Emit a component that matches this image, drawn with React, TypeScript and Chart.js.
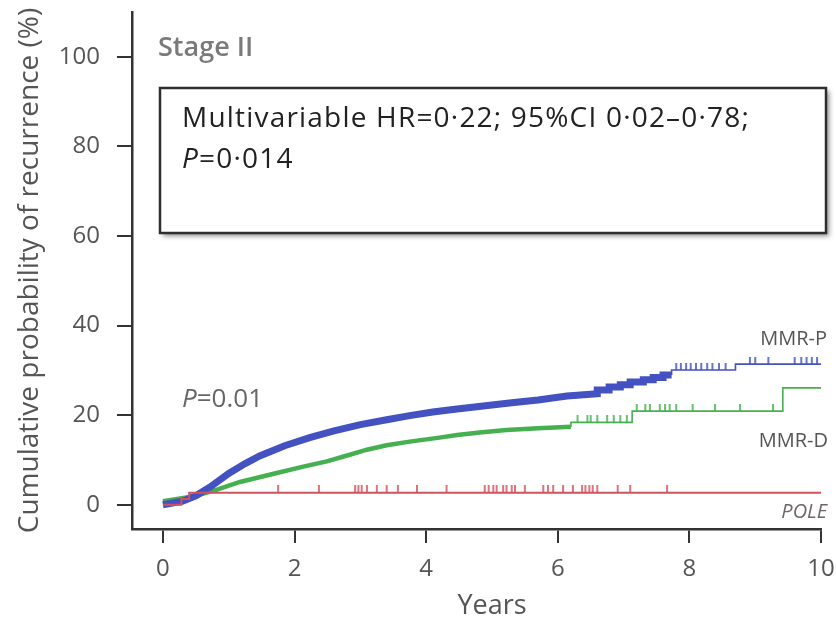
import React, { useEffect, useRef } from "react";
import { Chart, registerables } from "chart.js";

Chart.register(...registerables);

// ---------- data ----------
const xTickValues = [0, 2, 4, 6, 8, 10];
const yTickValues = [0, 20, 40, 60, 80, 100];

// MMR-P (blue) cumulative probability of recurrence (%); repeated times mark vertical steps
const mmrpTimes = [0, 0.3, 0.5, 0.71, 1.0, 1.25, 1.47, 1.85, 2.23, 2.6, 3.0, 3.4, 3.75, 4.1, 4.47, 4.9, 5.3, 5.7, 6.14, 6.6, 6.6, 6.78, 6.78, 6.95, 6.95, 7.1, 7.1, 7.3, 7.3, 7.45, 7.45, 7.6, 7.6, 7.73, 7.73, 8.7, 8.7, 10];
const mmrpValues = [0, 0.8, 2.0, 3.9, 7.0, 9.2, 10.9, 13.2, 15.0, 16.5, 17.9, 19.0, 19.9, 20.7, 21.4, 22.1, 22.8, 23.4, 24.3, 24.8, 25.6, 25.6, 26.3, 26.3, 26.8, 26.8, 27.4, 27.4, 27.9, 27.9, 28.4, 28.4, 29.0, 29.0, 30.1, 30.1, 31.4, 31.4];
const mmrpCensor = [7.8, 7.87, 7.95, 8.02, 8.1, 8.18, 8.27, 8.35, 8.45, 8.55, 8.92, 9.0, 9.2, 9.6, 9.7, 9.78, 9.86, 9.94];

// MMR-D (green)
const mmrdTimes = [0, 0.5, 0.8, 1.17, 1.45, 1.73, 2.1, 2.49, 2.8, 3.1, 3.4, 3.75, 4.2, 4.47, 4.85, 5.22, 5.7, 6.2, 6.2, 7.13, 7.13, 9.42, 9.42, 10];
const mmrdValues = [0.8, 2.0, 3.3, 5.1, 6.1, 7.1, 8.4, 9.7, 11.0, 12.3, 13.3, 14.1, 15.0, 15.6, 16.2, 16.7, 17.1, 17.4, 18.4, 18.4, 20.9, 20.9, 26.1, 26.1];
const mmrdCensor = [6.3, 6.45, 6.5, 6.6, 6.75, 6.85, 6.95, 7.05, 7.2, 7.33, 7.4, 7.55, 7.63, 7.7, 7.8, 8.05, 8.39, 8.77, 9.27];

// POLE (red)
const poleTimes = [0, 0.28, 0.28, 0.4, 0.4, 10];
const poleValues = [0, 0, 1.3, 1.3, 2.7, 2.7];
const poleCensor = [1.75, 2.37, 2.92, 2.97, 3.02, 3.1, 3.25, 3.4, 3.57, 3.86, 4.31, 4.89, 4.95, 5.02, 5.07, 5.17, 5.22, 5.3, 5.35, 5.5, 5.78, 5.85, 5.93, 6.08, 6.23, 6.37, 6.42, 6.48, 6.53, 6.6, 6.91, 7.1, 7.66];

// ---------- styling ----------
const FONT = "'Open Sans', sans-serif";
const BLUE = "#4352c0";
const GREEN = "#45b04f";
const RED = "#d2515e";
const AXIS = "#333333";
const TEXT = "#555555";

function toPoints(times: number[], values: number[]) {
  return times.map((t, i) => ({ x: t, y: values[i] }));
}

function stepValueAt(times: number[], values: number[], t: number) {
  let v = values[0];
  for (let i = 0; i < times.length; i++) {
    if (times[i] <= t) v = values[i];
  }
  return v;
}

function censorPoints(censor: number[], times: number[], values: number[]) {
  return censor.map((t) => ({ x: t, y: stepValueAt(times, values, t) }));
}

function makeTick(color: string, h: number, w = 1.6) {
  const c = document.createElement("canvas");
  c.width = 4;
  c.height = h * 2;
  const g = c.getContext("2d")!;
  g.strokeStyle = color;
  g.lineWidth = w;
  g.beginPath();
  g.moveTo(2, 0);
  g.lineTo(2, h);
  g.stroke();
  return c;
}

function drawRich(
  ctx: CanvasRenderingContext2D,
  parts: [string, boolean][],
  x: number,
  y: number,
  size: number,
  family: string,
  color: string,
  spacing = "0px"
) {
  let cx = x;
  ctx.save();
  ctx.fillStyle = color;
  ctx.textAlign = "left";
  (ctx as any).letterSpacing = spacing;
  for (const [txt, italic] of parts) {
    ctx.font = `${italic ? "italic " : ""}${size}px ${family}`;
    ctx.fillText(txt, cx, y);
    cx += ctx.measureText(txt).width;
  }
  ctx.restore();
}

const annotationPlugin = {
  id: "kmAnnotations",
  afterDraw(chart: any) {
    const ctx: CanvasRenderingContext2D = chart.ctx;
    const xs = chart.scales.x;
    ctx.save();
    ctx.textBaseline = "alphabetic";

    // Stage label
    ctx.font = `600 27px ${FONT}`;
    ctx.fillStyle = "#7a7a7a";
    ctx.textAlign = "left";
    ctx.fillText("Stage II", 158, 56);

    // Box with shadow
    ctx.save();
    ctx.shadowColor = "rgba(0,0,0,0.45)";
    ctx.shadowBlur = 5;
    ctx.shadowOffsetX = 3;
    ctx.shadowOffsetY = 3;
    ctx.fillStyle = "#ffffff";
    ctx.fillRect(160, 88, 666, 145);
    ctx.restore();
    ctx.lineWidth = 2.5;
    ctx.strokeStyle = "#2e2e2e";
    ctx.strokeRect(160, 88, 666, 145);

    drawRich(ctx, [["Multivariable HR=0·22; 95%CI 0·02–0·78;", false]], 182, 127, 28, FONT, "#222", "1.2px");
    drawRich(ctx, [["P", true], ["=0·014", false]], 182, 168, 28, FONT, "#222", "1.2px");

    // P value
    drawRich(ctx, [["P", true], ["=0.01", false]], 182, 407, 26, FONT, "#666");

    // Curve labels
    ctx.textAlign = "right";
    ctx.fillStyle = TEXT;
    ctx.font = `20px ${FONT}`;
    ctx.fillText("MMR-P", 827, 345);
    ctx.fillText("MMR-D", 828, 447);
    ctx.font = `italic 20px ${FONT}`;
    ctx.fillStyle = "#6e6566";
    ctx.fillText("POLE", 827, 518);

    // X axis title
    ctx.textAlign = "center";
    ctx.fillStyle = TEXT;
    ctx.font = `27px ${FONT}`;
    ctx.fillText("Years", xs.getPixelForValue(5), 614);

    ctx.restore();
  },
};

export default function App() {
  const canvasRef = useRef<HTMLCanvasElement | null>(null);

  useEffect(() => {
    const canvas = canvasRef.current;
    if (!canvas) return;

    const thick = (limit: number, wide: number, thin: number) => (c: any) =>
      c.p0.parsed.x < limit ? wide : thin;

    const zeroPad = (s: any) => {
      s.paddingTop = 0;
      s.paddingBottom = 0;
      s.paddingLeft = 0;
      s.paddingRight = 0;
    };

    const chart = new Chart(canvas, {
      type: "line",
      data: {
        datasets: [
          {
            label: "POLE",
            data: toPoints(poleTimes, poleValues),
            borderColor: RED,
            borderWidth: 2,
            pointRadius: 0,
            fill: false,
            order: 1,
          },
          {
            label: "POLE censored",
            data: censorPoints(poleCensor, poleTimes, poleValues),
            showLine: false,
            pointStyle: makeTick(RED, 8) as any,
            order: 1,
          },
          {
            label: "MMR-P",
            data: toPoints(mmrpTimes, mmrpValues),
            borderColor: BLUE,
            borderWidth: 2,
            pointRadius: 0,
            fill: false,
            borderJoinStyle: "miter",
            segment: { borderWidth: thick(7.73, 7, 1.6) },
            order: 2,
          },
          {
            label: "MMR-P censored",
            data: censorPoints(mmrpCensor, mmrpTimes, mmrpValues),
            showLine: false,
            pointStyle: makeTick(BLUE, 7) as any,
            order: 2,
          },
          {
            label: "MMR-D",
            data: toPoints(mmrdTimes, mmrdValues),
            borderColor: GREEN,
            borderWidth: 2,
            pointRadius: 0,
            fill: false,
            segment: { borderWidth: thick(6.2, 4.5, 1.6) },
            order: 3,
          },
          {
            label: "MMR-D censored",
            data: censorPoints(mmrdCensor, mmrdTimes, mmrdValues),
            showLine: false,
            pointStyle: makeTick(GREEN, 7) as any,
            order: 3,
          },
        ],
      },
      options: {
        responsive: false,
        animation: false,
        events: [],
        layout: { padding: { left: 0, right: 15, top: 12, bottom: 0 } },
        plugins: {
          legend: { display: false },
          tooltip: { enabled: false },
          title: { display: false },
        },
        scales: {
          x: {
            type: "linear",
            min: -0.47,
            max: 10,
            afterBuildTicks: (s: any) => {
              s.ticks = xTickValues.map((v) => ({ value: v }));
            },
            afterFit: (s: any) => {
              s.height = 92;
              zeroPad(s);
            },
            grid: {
              display: true,
              drawOnChartArea: false,
              drawTicks: true,
              tickLength: 14,
              color: AXIS,
              lineWidth: 2,
            },
            border: { display: true, color: AXIS, width: 2.5 },
            ticks: {
              color: TEXT,
              font: { family: FONT, size: 24 },
              padding: 12,
              maxRotation: 0,
              callback: (v: any) => String(v),
            },
          },
          y: {
            type: "linear",
            min: -5.4,
            max: 110,
            afterBuildTicks: (s: any) => {
              s.ticks = yTickValues.map((v) => ({ value: v }));
            },
            afterFit: (s: any) => {
              s.width = 132;
              zeroPad(s);
            },
            grid: {
              display: true,
              drawOnChartArea: false,
              drawTicks: true,
              tickLength: 15,
              color: AXIS,
              lineWidth: 2,
            },
            border: { display: true, color: AXIS, width: 2.5 },
            ticks: {
              color: TEXT,
              font: { family: FONT, size: 24 },
              padding: 17,
              callback: (v: any) => String(v),
            },
            title: {
              display: true,
              text: "Cumulative probability of recurrence (%)",
              color: TEXT,
              font: { family: FONT, size: 28 },
              padding: { top: 13, bottom: 0 },
            },
          },
        },
      },
      plugins: [annotationPlugin],
    } as any);

    return () => chart.destroy();
  }, []);

  return (
    <div style={{ position: "fixed", left: 0, top: 0, width: 836, height: 621, background: "#fff" }}>
      <canvas ref={canvasRef} width={836} height={621} />
    </div>
  );
}
